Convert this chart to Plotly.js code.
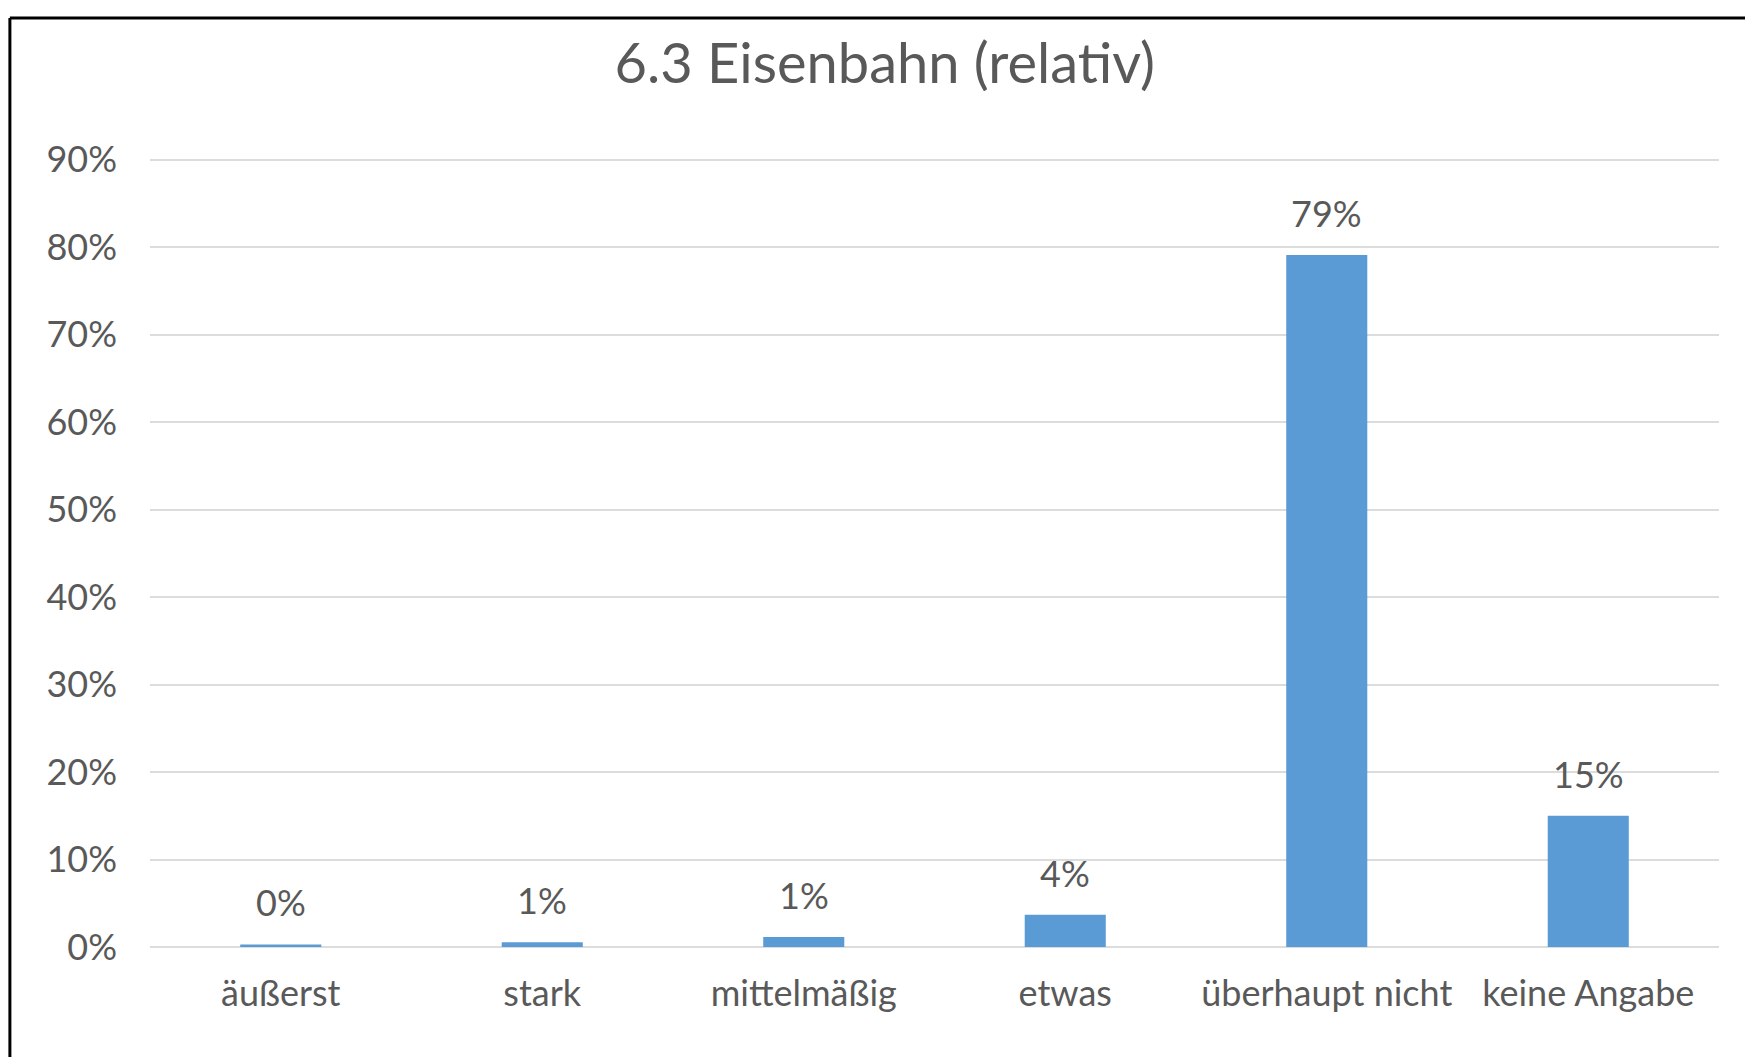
<!DOCTYPE html>
<html>
<head>
<meta charset="utf-8">
<script src="https://cdn.plot.ly/plotly-3.0.1.min.js"></script>
<style>
html,body{margin:0;padding:0;background:#fff;}
#chart{width:1745px;height:1057px;}
</style>
</head>
<body>
<div id="chart"></div>
<script>
const chartTitle = "6.3 Eisenbahn (relativ)";
const categories = ["äußerst", "stark", "mittelmäßig", "etwas", "überhaupt nicht", "keine Angabe"];
const shares = [0.003, 0.0055, 0.0115, 0.037, 0.791, 0.150];
const yTickValues = [0, 0.1, 0.2, 0.3, 0.4, 0.5, 0.6, 0.7, 0.8, 0.9];

const FONT = "Lato, 'Open Sans', sans-serif";
const TEXT = "#595959";

const trace = {
  type: "bar",
  x: categories,
  y: shares,
  marker: {color: "#5B9BD5"},
  hoverinfo: "skip"
};

const annotations = categories.map((c, i) => ({
  x: c, y: shares[i], xref: "x", yref: "y",
  text: Math.round(shares[i] * 100) + "%",
  showarrow: false, yanchor: "bottom", yshift: 18,
  font: {family: FONT, size: 36, color: TEXT}
}));

const layout = {
  width: 1745, height: 1057,
  margin: {l: 150, r: 26, t: 158, b: 110},
  paper_bgcolor: "#ffffff", plot_bgcolor: "#ffffff",
  showlegend: false,
  bargap: 0.69,
  title: {text: chartTitle, x: 0.507, xanchor: "center", y: 0.94, yanchor: "middle",
          font: {family: FONT, size: 56, color: TEXT}},
  xaxis: {
    type: "category", showgrid: false, zeroline: false, showline: false,
    ticks: "", ticklabelstandoff: 22,
    tickfont: {family: FONT, size: 36, color: TEXT}
  },
  yaxis: {
    range: [0, 0.902], tickvals: yTickValues, tickformat: ".0%",
    showgrid: true, gridcolor: "#DCDCDC", gridwidth: 2,
    zeroline: true, zerolinecolor: "#DCDCDC", zerolinewidth: 2,
    showline: false, ticks: "", ticklabelstandoff: 32,
    tickfont: {family: FONT, size: 36, color: TEXT}
  },
  annotations: annotations,
  shapes: [
    {type: "line", xref: "paper", yref: "paper", x0: -0.0893, x1: -0.0893, y0: -0.15, y1: 1.1774,
     line: {color: "#000", width: 3}},
    {type: "line", xref: "paper", yref: "paper", x0: -0.0893, x1: 1.03, y0: 1.1774, y1: 1.1774,
     line: {color: "#000", width: 3}}
  ]
};

Plotly.newPlot("chart", [trace], layout, {displayModeBar: false, staticPlot: true});
</script>
</body>
</html>
